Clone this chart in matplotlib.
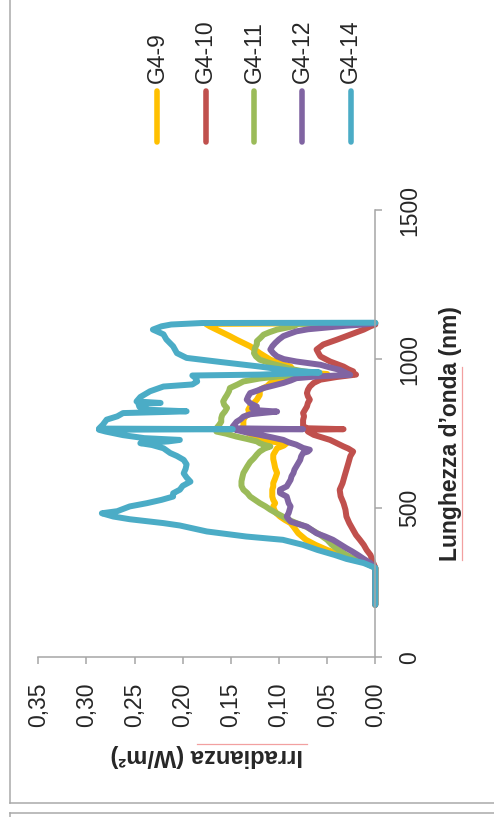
import matplotlib
matplotlib.use("Agg")
import matplotlib.pyplot as plt
from matplotlib.lines import Line2D

plt.rcParams['font.family'] = ['Liberation Sans', 'DejaVu Sans']

# ---- data: irradiance (W/m^2) against wavelength (nm) ----
series_names = ["G4-9", "G4-10", "G4-11", "G4-12", "G4-14"]
series_colors = ["#FFC000", "#C0504D", "#9BBB59", "#8064A2", "#4BACC6"]

wl_g4_9 = [176, 300, 316, 330, 343, 360, 377, 394, 416, 438, 450, 461, 472, 484, 495, 506, 517, 528,
           539, 551, 562, 573, 584, 600, 618, 635, 651, 665, 679, 690, 701, 710, 718, 724, 735, 746,
           757, 765, 774, 785, 796, 808, 819, 830, 841, 853, 864, 880, 897, 910, 920, 930, 938, 945,
           950, 955, 962, 975, 987, 998, 1010, 1020, 1032, 1043, 1054, 1065, 1077, 1088, 1099, 1110,
           1118, 1121]
irr_g4_9 = [0, 0, 0.008, 0.022, 0.035, 0.050, 0.062, 0.072, 0.080, 0.085, 0.088, 0.094, 0.099, 0.103,
            0.105, 0.106, 0.104, 0.106, 0.107, 0.107, 0.107, 0.106, 0.106, 0.104, 0.102, 0.104, 0.105,
            0.106, 0.106, 0.104, 0.102, 0.095, 0.092, 0.110, 0.120, 0.128, 0.135, 0.140, 0.137, 0.137,
            0.137, 0.135, 0.130, 0.132, 0.130, 0.126, 0.123, 0.120, 0.120, 0.112, 0.109, 0.103, 0.095,
            0.075, 0.050, 0.070, 0.085, 0.088, 0.100, 0.109, 0.115, 0.120, 0.125, 0.130, 0.137, 0.144,
            0.151, 0.158, 0.165, 0.172, 0.176, 0]

wl_g4_10 = [176, 300, 316, 343, 360, 377, 394, 410, 427, 450, 472, 495, 517, 540, 562, 584, 607, 629,
            651, 674, 690, 700, 707, 718, 729, 740, 746, 757, 763, 765, 768, 774, 785, 796, 808, 819,
            830, 841, 853, 864, 875, 886, 897, 908, 920, 931, 940, 948, 953, 959, 966, 975, 992, 1009,
            1020, 1032, 1049, 1065, 1082, 1099, 1110, 1116]
irr_g4_10 = [0, 0, 0.002, 0.005, 0.009, 0.012, 0.016, 0.020, 0.023, 0.027, 0.030, 0.031, 0.033, 0.036,
             0.037, 0.034, 0.032, 0.030, 0.028, 0.026, 0.023, 0.028, 0.033, 0.040, 0.047, 0.058, 0.064,
             0.070, 0.071, 0.033, 0.070, 0.075, 0.075, 0.075, 0.074, 0.075, 0.073, 0.071, 0.070, 0.068,
             0.070, 0.071, 0.070, 0.068, 0.064, 0.057, 0.040, 0.020, 0.023, 0.023, 0.028, 0.033, 0.047,
             0.057, 0.059, 0.061, 0.054, 0.040, 0.026, 0.012, 0.005, 0]

wl_g4_11 = [176, 300, 316, 330, 343, 360, 377, 394, 410, 427, 438, 450, 461, 472, 484, 495, 506, 517,
            528, 539, 551, 562, 575, 590, 605, 618, 629, 640, 655, 668, 680, 690, 700, 707, 712, 718,
            724, 732, 740, 750, 757, 768, 780, 790, 802, 813, 825, 836, 847, 858, 870, 880, 892, 903,
            915, 925, 935, 942, 948, 953, 959, 967, 975, 987, 998, 1009, 1020, 1037, 1050, 1060, 1072,
            1082, 1090, 1099, 1110, 1118, 1121]
irr_g4_11 = [0, 0, 0.010, 0.022, 0.030, 0.038, 0.045, 0.050, 0.057, 0.066, 0.072, 0.082, 0.090, 0.096,
             0.103, 0.109, 0.114, 0.120, 0.125, 0.130, 0.133, 0.137, 0.139, 0.139, 0.138, 0.137, 0.135,
             0.133, 0.130, 0.126, 0.123, 0.120, 0.115, 0.109, 0.115, 0.120, 0.123, 0.133, 0.144, 0.155,
             0.165, 0.165, 0.162, 0.160, 0.160, 0.159, 0.156, 0.154, 0.157, 0.158, 0.156, 0.154, 0.152,
             0.151, 0.143, 0.137, 0.120, 0.100, 0.075, 0.060, 0.075, 0.088, 0.096, 0.110, 0.120, 0.124,
             0.126, 0.125, 0.123, 0.123, 0.119, 0.116, 0.110, 0.102, 0.085, 0.080, 0]

wl_g4_12 = [176, 300, 316, 330, 343, 355, 366, 380, 394, 405, 416, 427, 438, 447, 455, 463, 472, 484,
            495, 506, 517, 528, 539, 551, 562, 573, 584, 595, 607, 618, 629, 640, 651, 662, 674, 685,
            690, 696, 702, 713, 721, 729, 738, 746, 755, 763, 765, 768, 774, 782, 790, 798, 807, 815,
            820, 824, 828, 835, 841, 852, 864, 875, 886, 895, 903, 912, 920, 928, 936, 942, 947, 953,
            964, 972, 981, 992, 1000, 1009, 1020, 1032, 1043, 1054, 1066, 1077, 1085, 1093, 1100, 1106,
            1112, 1116, 1120]
irr_g4_12 = [0, 0, 0.005, 0.012, 0.018, 0.024, 0.030, 0.037, 0.044, 0.052, 0.061, 0.066, 0.071, 0.080,
             0.088, 0.090, 0.092, 0.090, 0.089, 0.088, 0.090, 0.091, 0.092, 0.099, 0.099, 0.092, 0.090,
             0.088, 0.087, 0.085, 0.084, 0.082, 0.080, 0.078, 0.077, 0.075, 0.070, 0.068, 0.075, 0.082,
             0.090, 0.0955, 0.108, 0.120, 0.135, 0.145, 0.075, 0.148, 0.148, 0.146, 0.144, 0.140, 0.137,
             0.130, 0.115, 0.102, 0.120, 0.128, 0.123, 0.130, 0.1335, 0.132, 0.130, 0.122, 0.116, 0.105,
             0.0955, 0.088, 0.082, 0.060, 0.026, 0.030, 0.037, 0.047, 0.057, 0.082, 0.095, 0.102, 0.106,
             0.109, 0.107, 0.104, 0.100, 0.0955, 0.089, 0.082, 0.070, 0.050, 0.030, 0.012, 0]

wl_g4_14 = [176, 250, 300, 316, 330, 343, 360, 377, 394, 405, 422, 442, 450, 463, 472, 483, 490, 506,
            517, 528, 539, 550, 562, 575, 589, 603, 617, 632, 647, 662, 675, 685, 701, 712, 718, 724,
            729, 735, 745, 757, 763, 765, 767, 780, 797, 808, 819, 823, 825, 830, 840, 850, 853, 858,
            873, 892, 908, 915, 925, 935, 945, 948, 955, 962, 975, 990, 1004, 1020, 1043, 1066, 1083,
            1099, 1110, 1116, 1121, 1122]
irr_g4_14 = [0, 0, 0, 0.012, 0.030, 0.042, 0.060, 0.075, 0.096, 0.134, 0.175, 0.203, 0.220, 0.255,
             0.272, 0.284, 0.268, 0.255, 0.237, 0.222, 0.210, 0.210, 0.203, 0.200, 0.192, 0.196, 0.199,
             0.197, 0.196, 0.199, 0.206, 0.213, 0.220, 0.232, 0.244, 0.215, 0.203, 0.240, 0.262, 0.280,
             0.287, 0.148, 0.287, 0.283, 0.279, 0.268, 0.262, 0.215, 0.196, 0.235, 0.245, 0.246, 0.223,
             0.248, 0.244, 0.234, 0.220, 0.190, 0.185, 0.186, 0.190, 0.120, 0.058, 0.090, 0.120, 0.160,
             0.196, 0.206, 0.210, 0.217, 0.220, 0.231, 0.222, 0.212, 0.180, 0]

wavelengths = [wl_g4_9, wl_g4_10, wl_g4_11, wl_g4_12, wl_g4_14]
irradiances = [irr_g4_9, irr_g4_10, irr_g4_11, irr_g4_12, irr_g4_14]

irr_ticks = [0.00, 0.05, 0.10, 0.15, 0.20, 0.25, 0.30, 0.35]
irr_tick_labels = ["0,00", "0,05", "0,10", "0,15", "0,20", "0,25", "0,30", "0,35"]
wl_ticks = [0, 500, 1000, 1500]
wl_tick_labels = ["0", "500", "1000", "1500"]

# ---- figure (the chart is laid out turned a quarter turn) ----
W, H = 494, 817
fig = plt.figure(figsize=(W / 100, H / 100), dpi=100)


def fx(px):
    return px / W


def fy(py):
    return (H - py) / H


axis_grey = "#a6a6a6"
text_col = "#262626"

# outer frames
frame_kw = dict(color="#a9a9a9", lw=1.1, transform=fig.transFigure)
fig.add_artist(Line2D([fx(10), fx(10)], [fy(803), 1.01], **frame_kw))
fig.add_artist(Line2D([fx(10), 1.01], [fy(803), fy(803)], **frame_kw))
fig.add_artist(Line2D([fx(10), 1.01], [fy(813), fy(813)], **frame_kw))
fig.add_artist(Line2D([fx(10), fx(10)], [fy(813), -0.01], **frame_kw))

x0, x1 = 38.3, 375.3
y_top, y_bot = 210.0, 657.3
ax = fig.add_axes([fx(x0), fy(y_bot), fx(x1) - fx(x0), fy(y_top) - fy(y_bot)])
ax.set_xlim(0.35, 0.0)
ax.set_ylim(0, 1500)
ax.patch.set_alpha(0)

for wl, irr, col in zip(wavelengths, irradiances, series_colors):
    ax.plot(irr, wl, color=col, lw=4.3, solid_joinstyle="round", solid_capstyle="round",
            clip_on=False)

for side in ("left", "top"):
    ax.spines[side].set_visible(False)
for side in ("bottom", "right"):
    ax.spines[side].set_color(axis_grey)
    ax.spines[side].set_linewidth(1.1)

ax.yaxis.tick_right()
ax.set_xticks(irr_ticks)
ax.set_xticklabels(irr_tick_labels, rotation=90, fontsize=16.5, color=text_col)
ax.set_yticks(wl_ticks)
ax.set_yticklabels(wl_tick_labels, rotation=90, fontsize=16.5, color=text_col, va="center")
ax.tick_params(axis="x", direction="out", length=5, width=1.1, color=axis_grey, pad=13.5)
ax.tick_params(axis="y", direction="out", length=5, width=1.1, color=axis_grey, pad=11.5)

ax.set_xlabel("Irradianza (W/m\u00b2)", rotation=180, fontsize=17, fontweight="bold",
              color=text_col)
ax.xaxis.set_label_coords(0.5, (y_bot - 756) / (y_bot - y_top))
ax.xaxis.label.set_va("center")

ax.yaxis.set_label_position("right")
ax.set_ylabel("Lunghezza d\u2019onda (nm)", rotation=90, fontsize=16.5, fontweight="bold",
              color=text_col)
ax.yaxis.set_label_coords((450 - x0) / (x1 - x0), 0.5)
ax.yaxis.label.set_va("center")
ax.yaxis.label.set_ha("center")

# spell-check underlines
pink_kw = dict(color="#f2a0a0", lw=0.9, transform=fig.transFigure)
fig.add_artist(Line2D([fx(462), fx(462)], [fy(367), fy(560)], **pink_kw))
fig.add_artist(Line2D([fx(197), fx(307)], [fy(744), fy(744)], **pink_kw))

# legend, one vertical key per series
leg_x = [157.3, 205.7, 254.0, 302.3, 350.5]
for name, col, lx in zip(series_names, series_colors, leg_x):
    fig.add_artist(Line2D([fx(lx), fx(lx)], [fy(142), fy(91)], color=col, lw=4.0,
                          solid_capstyle="round", transform=fig.transFigure))
    fig.text(fx(lx), fy(83), name, rotation=90, ha="center", va="bottom",
             fontsize=16.5, color=text_col)

fig.savefig("out.png", dpi=100)
